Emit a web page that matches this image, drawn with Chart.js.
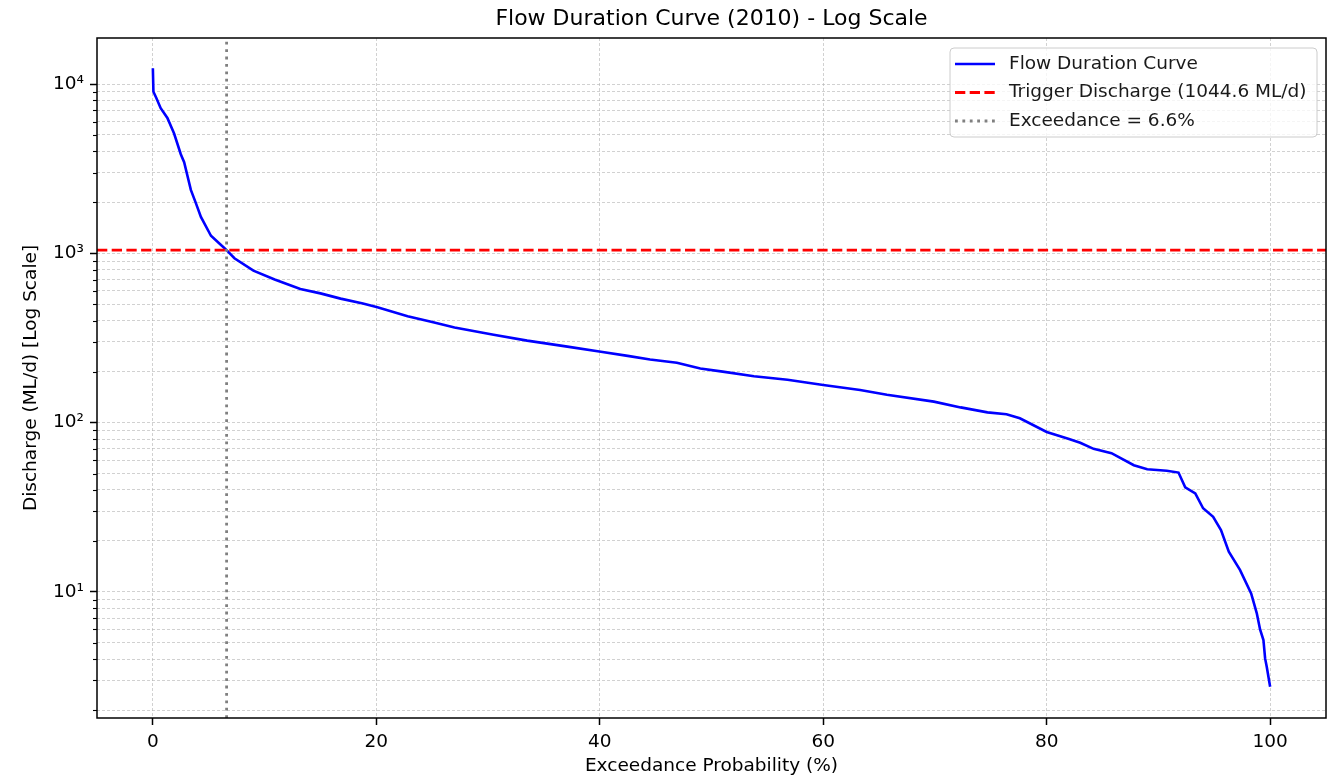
<!DOCTYPE html>
<html>
<head>
<meta charset="utf-8">
<title>Flow Duration Curve (2010) - Log Scale</title>
<script src="https://cdn.jsdelivr.net/npm/chart.js@4.4.1/dist/chart.umd.min.js"></script>
<style>
  html, body { margin: 0; padding: 0; background: #fff; }
  canvas { display: block; }
</style>
</head>
<body>
<canvas id="chart-fdc" width="1329" height="775"></canvas>
<script>
const FONT = "'DejaVu Sans', 'Liberation Sans', sans-serif";

// exceedance probability (%) and sorted daily discharge (ML/d)
const exceedance = [
  0, 0.05, 0.3, 0.7, 1.3, 1.9, 2.5, 2.8, 3.4, 3.85, 4.3, 5.2, 6.1, 6.6, 7.3, 9.0,
  10.9, 13.2, 15.0, 16.8, 18.8, 20.1, 22.8, 25.0, 27.0, 30.5, 33.5, 37.1, 40.1, 42.5,
  44.5, 46.9, 49.0, 51.0, 53.8, 56.8, 60.0, 63.3, 65.7, 69.9, 72.3, 74.7, 76.4, 77.6,
  80.0, 82.0, 83.0, 84.2, 85.8, 87.8, 89.0, 90.75, 91.8, 92.4, 93.3, 94.0, 94.9, 95.6,
  96.3, 97.3, 98.3, 98.8, 99.1, 99.4, 99.55, 99.7, 100,
];
const discharge = [
  12400, 9000, 8300, 7200, 6300, 5100, 3850, 3450, 2370, 1980, 1640, 1270, 1120, 1045, 935, 790,
  700, 615, 580, 540, 505, 480, 425, 393, 365, 330, 305, 281, 262, 248,
  236, 226, 209, 200, 188, 179, 167, 156, 146, 133, 123, 115, 112, 106,
  88, 80, 76, 70, 66, 56, 53, 52, 50.7, 41.5, 38.2, 31.2, 27.8, 23.2,
  17.3, 13.5, 9.8, 7.5, 6.0, 5.2, 4.05, 3.6, 2.75,
];

const triggerDischarge = 1044.6;
const triggerExceedance = 6.6;

const xRange = [-5, 105];
const yRange = [1.8, 18700];
const xTicks = [0, 20, 40, 60, 80, 100];
const yMajorTicks = [10, 100, 1000, 10000];
const yTickLabels = ['10\u00B9', '10\u00B2', '10\u00B3', '10\u2074'];

const seriesLabels = [
  'Flow Duration Curve',
  `Trigger Discharge (${triggerDischarge} ML/d)`,
  `Exceedance = ${triggerExceedance}%`,
];

// every 1..9 x decade inside the axis range (grid lines on both major and minor)
const yAllTicks = [];
for (let e = 0; e <= 4; e++) {
  for (let m = 1; m <= 9; m++) {
    const v = m * Math.pow(10, e);
    if (v >= yRange[0] && v <= yRange[1]) yAllTicks.push(v);
  }
}

const GRID = 'rgba(176, 176, 176, 0.65)';
const curveStyle = { color: '#0000ff', width: 2.6, dash: [] };
const triggerStyle = { color: '#ff0000', width: 2.8, dash: [10.3, 4.4] };
const exceedStyle = { color: '#808080', width: 2.8, dash: [2.8, 4.6] };

const frameAndLegend = {
  id: 'frameAndLegend',
  afterDraw(chart) {
    const { ctx, chartArea: a } = chart;
    const yScale = chart.scales.y;

    ctx.save();
    // minor tick marks (shorter than major)
    ctx.strokeStyle = '#000';
    ctx.lineWidth = 1.1;
    yAllTicks.forEach((v) => {
      if (yMajorTicks.includes(v)) return;
      const py = Math.round(yScale.getPixelForValue(v)) + 0.5;
      ctx.beginPath();
      ctx.moveTo(a.left - 4, py);
      ctx.lineTo(a.left, py);
      ctx.stroke();
    });

    // axes frame
    ctx.lineWidth = 1.5;
    ctx.strokeRect(a.left, a.top, a.right - a.left, a.bottom - a.top);

    // legend box, upper right
    const bx = a.right - 376, by = a.top + 10, bw = 367, bh = 89;
    ctx.beginPath();
    ctx.roundRect(bx, by, bw, bh, 4);
    ctx.fillStyle = 'rgba(255, 255, 255, 0.8)';
    ctx.fill();
    ctx.strokeStyle = '#cccccc';
    ctx.lineWidth = 1;
    ctx.stroke();

    const styles = [curveStyle, triggerStyle, exceedStyle];
    ctx.font = `18.5px ${FONT}`;
    ctx.textBaseline = 'middle';
    ctx.textAlign = 'left';
    styles.forEach((s, i) => {
      const ry = by + 16 + i * 28.5;
      ctx.beginPath();
      ctx.setLineDash(s.dash);
      ctx.strokeStyle = s.color;
      ctx.lineWidth = s.width;
      ctx.moveTo(bx + 5, ry);
      ctx.lineTo(bx + 45, ry);
      ctx.stroke();
      ctx.setLineDash([]);
      ctx.fillStyle = '#1a1a1a';
      ctx.fillText(seriesLabels[i], bx + 59, ry);
    });
    ctx.restore();
  },
};

function lineDataset(label, xs, ys, style, order) {
  return {
    label,
    data: xs.map((x, i) => ({ x, y: ys[i] })),
    borderColor: style.color,
    borderWidth: style.width,
    borderDash: style.dash,
    pointRadius: 0,
    tension: 0,
    fill: false,
    order,
  };
}

const ctx = document.getElementById('chart-fdc').getContext('2d');
new Chart(ctx, {
  type: 'line',
  data: {
    datasets: [
      lineDataset(seriesLabels[0], exceedance, discharge, curveStyle, 3),
      lineDataset(seriesLabels[1], xRange, [triggerDischarge, triggerDischarge], triggerStyle, 2),
      lineDataset(seriesLabels[2], [triggerExceedance, triggerExceedance], yRange, exceedStyle, 1),
    ],
  },
  options: {
    responsive: false,
    animation: false,
    layout: { padding: { top: 0, left: 0, bottom: 0, right: 3 } },
    plugins: {
      legend: { display: false },
      tooltip: { enabled: false },
      title: {
        display: true,
        fullSize: false,
        text: 'Flow Duration Curve (2010) - Log Scale',
        color: '#000',
        font: { family: FONT, size: 22, weight: 'normal', lineHeight: 1 },
        padding: { top: 8.7, bottom: 7.3 },
      },
    },
    scales: {
      x: {
        type: 'linear',
        min: xRange[0],
        max: xRange[1],
        afterBuildTicks: (s) => { s.ticks = xTicks.map((v) => ({ value: v })); },
        afterFit: (s) => { s.height = 57; },
        ticks: {
          color: '#000',
          font: { family: FONT, size: 18.5 },
          padding: 6,
          maxRotation: 0,
          callback: (v) => String(v),
        },
        grid: { color: GRID, lineWidth: 0.9, tickLength: 7, tickColor: '#000', tickWidth: 1.5 },
        border: { display: false, dash: [3, 2] },
        title: {
          display: true,
          text: 'Exceedance Probability (%)',
          color: '#000',
          font: { family: FONT, size: 18.5, lineHeight: 1 },
          padding: 0,
        },
      },
      y: {
        type: 'logarithmic',
        min: yRange[0],
        max: yRange[1],
        afterBuildTicks: (s) => { s.ticks = yAllTicks.map((v) => ({ value: v })); },
        afterFit: (s) => { s.width = 97; },
        ticks: {
          autoSkip: false,
          color: '#000',
          font: { family: FONT, size: 18.5 },
          padding: 6,
          callback: (v) => {
            const i = yMajorTicks.indexOf(v);
            return i >= 0 ? yTickLabels[i] : '';
          },
        },
        grid: {
          color: GRID,
          lineWidth: 0.9,
          tickLength: 7,
          tickWidth: 1.5,
          tickColor: (c) => (c.tick && yMajorTicks.includes(c.tick.value) ? '#000' : 'rgba(0,0,0,0)'),
        },
        border: { display: false, dash: [3, 2] },
        title: {
          display: true,
          text: 'Discharge (ML/d) [Log Scale]',
          color: '#000',
          font: { family: FONT, size: 18.5, lineHeight: 1 },
          padding: { top: 22, bottom: 0 },
        },
      },
    },
  },
  plugins: [frameAndLegend],
});
</script>
</body>
</html>
